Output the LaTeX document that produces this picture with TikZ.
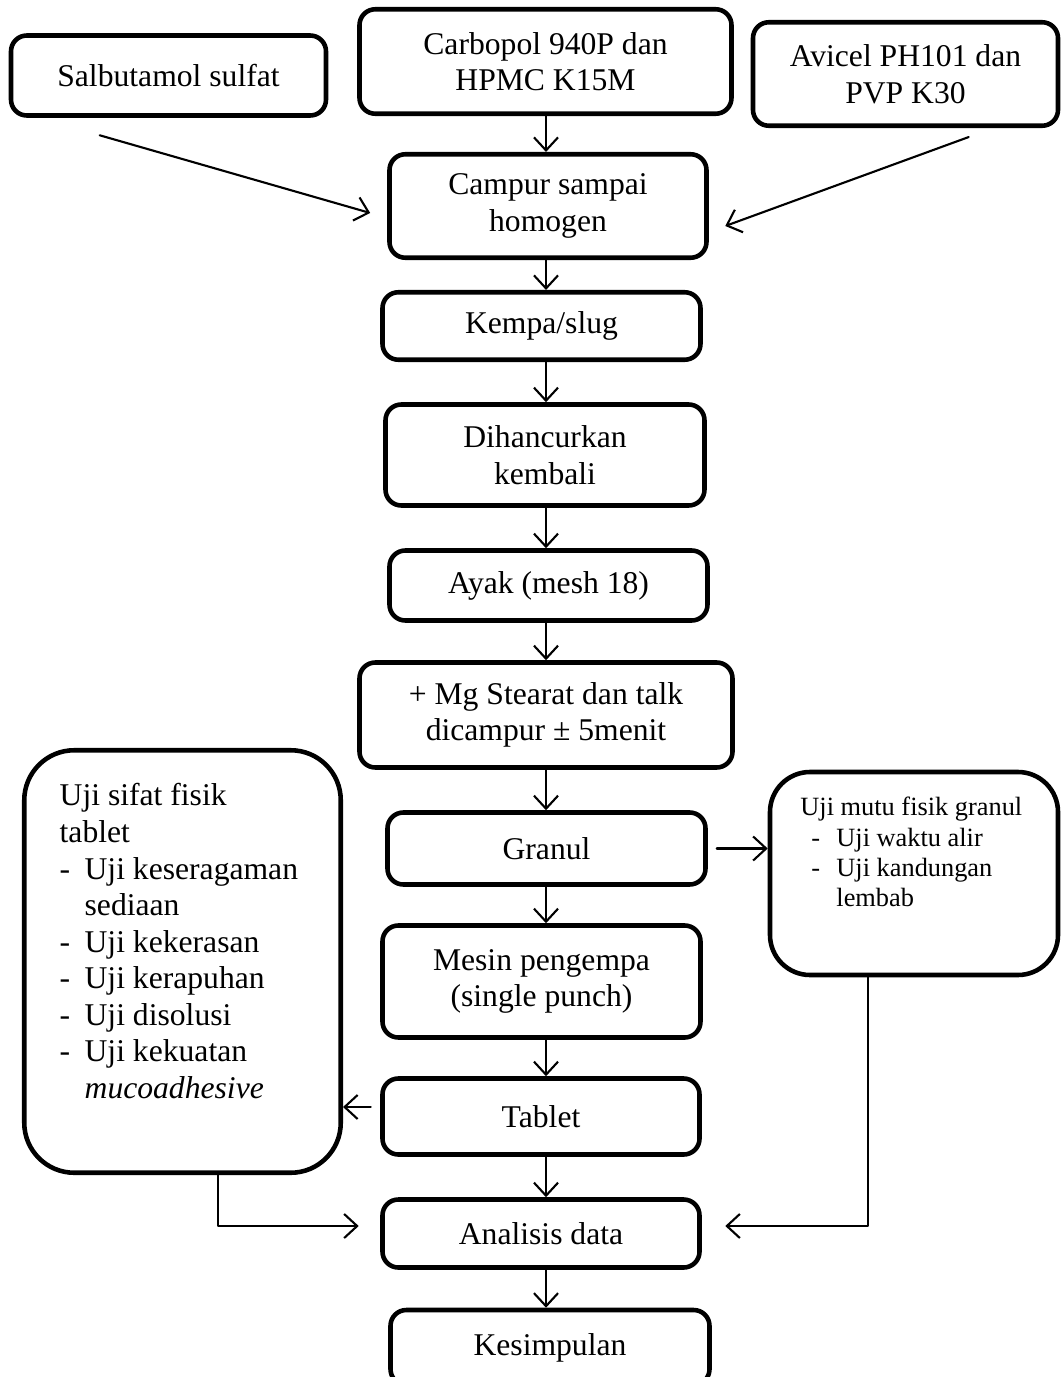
\documentclass[tikz,border=0pt]{standalone}
\usepackage{fontspec}
\setmainfont{Liberation Serif}
\usetikzlibrary{arrows.meta}
\begin{document}
\begin{tikzpicture}[>={Straight Barb[length=1.3mm,width=2.4mm]},line cap=round,line join=round,
	stepbox/.style={draw,line width=1.3pt,rounded corners=4.5pt,align=center,inner sep=0pt,font=\fontsize{9}{10.4}\selectfont},
	bigbox/.style={draw,line width=1.3pt,inner sep=0pt},
	link/.style={->,line width=0.6pt}]
	\useasboundingbox (0,0) rectangle (10.62,-13.77);
	\coordinate (spine) at (5.46,0);
	% bahan awal
	\node[stepbox,minimum width=3.15cm,minimum height=0.80cm] (salb) at (1.685,-0.755) {Salbutamol sulfat};
	\node[stepbox,minimum width=3.72cm,minimum height=1.045cm] (carb) at (5.455,-0.615) {Carbopol 940P dan\\HPMC K15M};
	\node[stepbox,minimum width=3.05cm,minimum height=1.035cm] (avic) at (9.055,-0.74) {Avicel PH101 dan\\PVP K30};
	% proses
	\node[stepbox,minimum width=3.17cm,minimum height=1.035cm] (camp) at (5.48,-2.06) {Campur sampai\\homogen};
	\node[stepbox,minimum width=3.18cm,minimum height=0.675cm] (kempa) at (5.415,-3.26) {Kempa/slug};
	\node[stepbox,minimum width=3.19cm,minimum height=1.01cm] (hancur) at (5.45,-4.55) {Dihancurkan\\kembali};
	\node[stepbox,minimum width=3.18cm,minimum height=0.70cm] (ayak) at (5.485,-5.855) {Ayak (mesh 18)};
	\node[stepbox,minimum width=3.73cm,minimum height=1.05cm] (mg) at (5.46,-7.15) {+ Mg Stearat dan talk\\dicampur ± 5menit};
	\node[stepbox,minimum width=3.18cm,minimum height=0.72cm] (granul) at (5.465,-8.485) {Granul};
	\node[stepbox,minimum width=3.18cm,minimum height=1.12cm] (mesin) at (5.415,-9.815) {Mesin pengempa\\(single punch)};
	\node[stepbox,minimum width=3.17cm,minimum height=0.76cm] (tablet) at (5.41,-11.165) {Tablet};
	\node[stepbox,minimum width=3.17cm,minimum height=0.68cm] (anl) at (5.41,-12.335) {Analisis data};
	\node[stepbox,minimum width=3.19cm,minimum height=0.75cm] (simpul) at (5.50,-13.475) {Kesimpulan};
	% uji
	\node[bigbox,rounded corners=0.5cm,minimum width=3.165cm,minimum height=4.225cm] (ujitab) at (1.825,-9.615) {};
	\node[anchor=north west,inner sep=0pt,align=left,font=\fontsize{9}{10.4}\selectfont] (ujitabtxt) at ([shift={(0.37,-0.35)}]ujitab.north west)
		{Uji sifat fisik\\tablet\\\makebox[0.25cm][l]{-}Uji keseragaman\\\hspace*{0.25cm}sediaan\\\makebox[0.25cm][l]{-}Uji kekerasan\\\makebox[0.25cm][l]{-}Uji kerapuhan\\\makebox[0.25cm][l]{-}Uji disolusi\\\makebox[0.25cm][l]{-}Uji kekuatan\\\hspace*{0.25cm}\textit{mucoadhesive}};
	\node[bigbox,rounded corners=0.4cm,minimum width=2.88cm,minimum height=2.03cm] (ujigr) at (9.14,-8.735) {};
	\node[anchor=north west,inner sep=0pt,align=left,font=\fontsize{7.5}{8.6}\selectfont] (ujigrtxt) at ([shift={(0.32,-0.27)}]ujigr.north west)
		{Uji mutu fisik granul\\\hspace*{0.11cm}\makebox[0.25cm][l]{-}Uji waktu alir\\\hspace*{0.11cm}\makebox[0.25cm][l]{-}Uji kandungan\\\hspace*{0.36cm}lembab};
	% panah
	\draw[link] ([shift={(0.91,-0.175)}]salb.south west)--([shift={(-0.17,-0.07)}]camp.west);
	\draw[link] ([shift={(2.18,-0.09)}]avic.south west)--([shift={(0.165,-0.20)}]camp.east);
	\foreach \a/\b in {carb/camp,camp/kempa,kempa/hancur,hancur/ayak,ayak/mg,mg/granul,granul/mesin,mesin/tablet,tablet/anl,anl/simpul}
		\draw[link] (\a.south -| spine)--(\b.north -| spine);
	\draw[link] ([xshift=0.09cm]granul.east)--(ujigr.west |- granul.east);
	\draw[link] ([shift={(-0.095,0.095)}]tablet.west) coordinate (tb)--(tb -| ujitab.east);
	\draw[link] ([xshift=-0.46cm]ujigr.south)|-([shift={(0.235,0.075)}]anl.east);
	\draw[link] ([xshift=0.355cm]ujitab.south)|-([shift={(-0.215,0.075)}]anl.west);
\end{tikzpicture}
\end{document}
